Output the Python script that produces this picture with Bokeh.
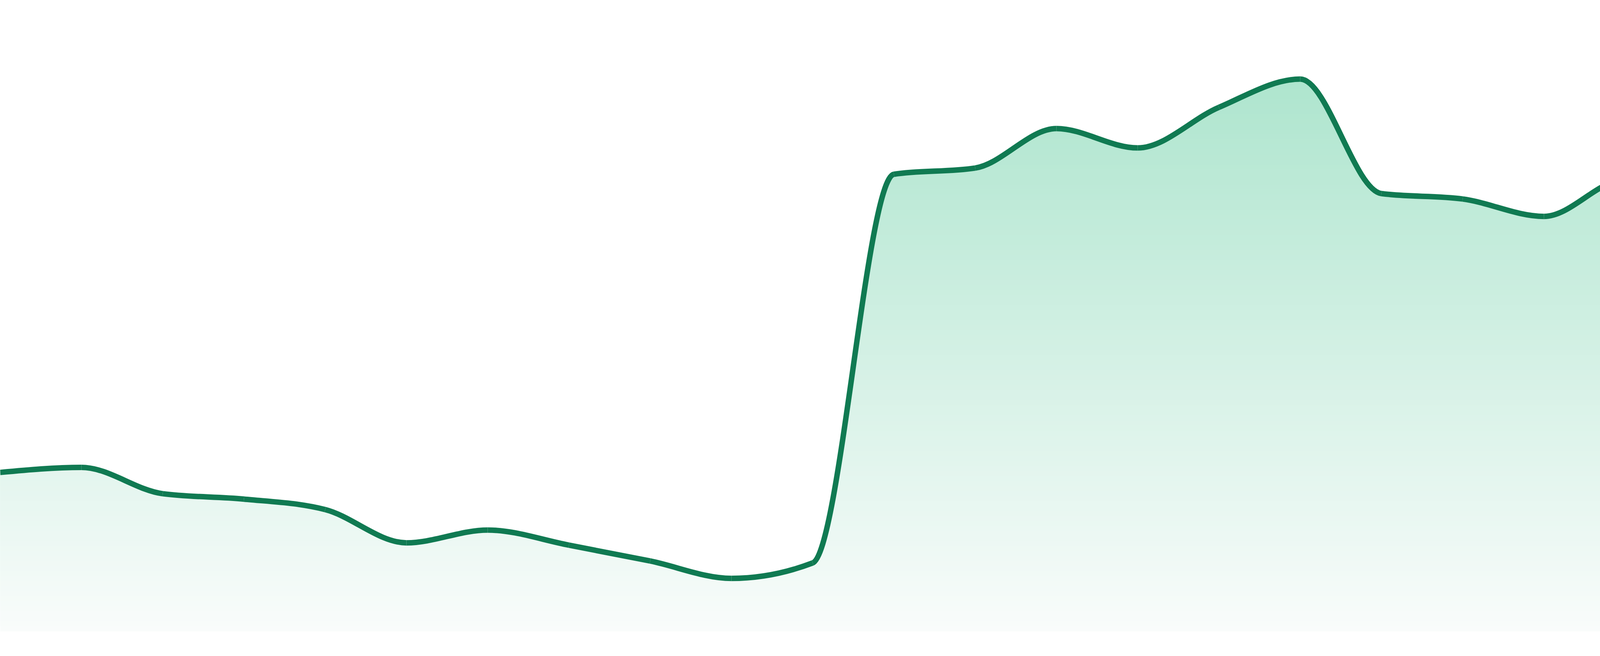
import numpy as np
from bokeh.plotting import figure
from bokeh.models import Range1d
from bokeh.embed import file_html
from bokeh.resources import INLINE

# ---- data (24 evenly spaced observations) ----
hours = list(range(24))
values = [41.1, 42.4, 35.6, 34.2, 31.5, 22.9, 26.2, 22.3, 18.2, 13.7, 17.7, 118.2,
          119.8, 130.0, 125.0, 135.5, 142.8, 113.2, 111.8, 107.3, 116.8, 116.4, 122.9, 125.5]

LINE_COLOR = "#107a52"
TOP_RGB = (174, 229, 206)
BOTTOM_RGB = (249, 252, 251)

x = np.array(hours, dtype=float)
y = np.array(values, dtype=float)
n = len(x)

# ---- monotone-X cubic tangents (same rule as d3.curveMonotoneX) ----
h = np.diff(x)
s = np.diff(y) / h
t = np.zeros(n)
for i in range(1, n - 1):
    s0, s1 = s[i - 1], s[i]
    p = (s0 * h[i] + s1 * h[i - 1]) / (h[i - 1] + h[i])
    t[i] = (np.sign(s0) + np.sign(s1)) * min(abs(s0), abs(s1), 0.5 * abs(p))
t[0] = (3 * s[0] - t[1]) / 2
t[-1] = (3 * s[-1] - t[-2]) / 2

x0, y0 = x[:-1], y[:-1]
x1, y1 = x[1:], y[1:]
cx0 = x0 + h / 3
cy0 = y0 + t[:-1] * h / 3
cx1 = x1 - h / 3
cy1 = y1 - t[1:] * h / 3

# sampled path of the same Bezier segments, for the area fill
tt = np.linspace(0, 1, 40)[:, None]
bx = ((1 - tt) ** 3 * x0 + 3 * (1 - tt) ** 2 * tt * cx0 + 3 * (1 - tt) * tt ** 2 * cx1 + tt ** 3 * x1)
by = ((1 - tt) ** 3 * y0 + 3 * (1 - tt) ** 2 * tt * cy0 + 3 * (1 - tt) * tt ** 2 * cy1 + tt ** 3 * y1)
fx = bx.T.ravel()
fy = by.T.ravel()

p = figure(width=4784, height=1664, output_backend="svg", toolbar_location=None,
           x_range=Range1d(0, 23), y_range=Range1d(-4.8, 163.2),
           min_border=0, min_border_left=0, min_border_right=0,
           min_border_top=0, min_border_bottom=0)
p.axis.visible = False
p.grid.visible = False
p.outline_line_color = None
p.background_fill_color = "white"
p.border_fill_color = "white"

# vertical gradient fill: stacked overlapping bands (no seams)
vmax = float(fy.max())
nb = 110
edges = np.linspace(0, vmax, nb + 1)
for k in range(nb):
    a = edges[k]
    mid = (edges[k] + edges[k + 1]) / 2
    f = mid / vmax
    r = int(round(BOTTOM_RGB[0] + (TOP_RGB[0] - BOTTOM_RGB[0]) * f))
    g = int(round(BOTTOM_RGB[1] + (TOP_RGB[1] - BOTTOM_RGB[1]) * f))
    b = int(round(BOTTOM_RGB[2] + (TOP_RGB[2] - BOTTOM_RGB[2]) * f))
    col = "#%02x%02x%02x" % (r, g, b)
    lo = np.minimum(fy, a)
    p.varea(x=fx, y1=lo, y2=fy, fill_color=col, fill_alpha=1.0)

p.bezier(x0=x0, y0=y0, x1=x1, y1=y1, cx0=cx0, cy0=cy0, cx1=cx1, cy1=cy1,
         line_color=LINE_COLOR, line_width=14)

open("out.html", "w").write(file_html(p, INLINE))
